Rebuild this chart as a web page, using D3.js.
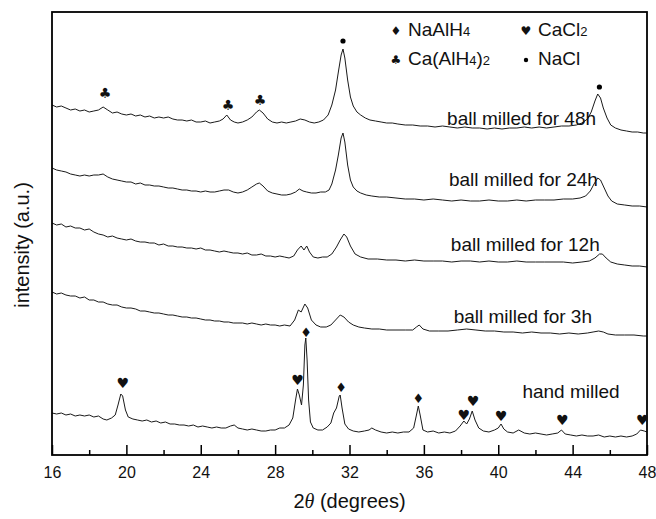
<!DOCTYPE html>
<html>
<head>
<meta charset="utf-8">
<script src="https://cdn.jsdelivr.net/npm/d3@7"></script>
<style>
  body { margin: 0; background: #fff; }
  text { font-family: Arial, "Liberation Sans", sans-serif; fill: #111; }
  .glyph { font-family: "DejaVu Sans", sans-serif; }
</style>
</head>
<body>
<div id="chart"></div>
<script>
// 2theta (deg), intensity (a.u.)
var handMilled = [[16,42],[16.25,41],[16.5,42],[16.75,40],[17,41],[17.25,39],[17.5,40],[17.75,39],[18,40],[18.25,38],[18.5,39],[18.75,36],[18.95,35],[19.2,37],[19.4,40],[19.55,50],[19.7,61],[19.8,59],[19.95,45],[20.1,38],[20.35,36],[20.6,35],[20.85,34],[21.1,35],[21.35,33],[21.6,34],[21.85,32],[22.1,33],[22.35,31],[22.6,31],[22.85,30],[23.1,30],[23.35,29],[23.6,30],[23.85,28],[24.1,29],[24.35,28],[24.6,27],[24.85,28],[25.1,27],[25.35,27],[25.6,29],[25.8,30],[26,27],[26.25,26],[26.5,25],[26.75,26],[27,25],[27.25,24],[27.5,24],[27.75,25],[28,25],[28.25,27],[28.5,27],[28.75,30],[28.95,37],[29.1,55],[29.2,66],[29.3,60],[29.42,50],[29.52,70],[29.6,110],[29.65,117],[29.72,95],[29.8,55],[29.9,33],[30.05,27],[30.3,25],[30.55,25],[30.8,28],[31,32],[31.15,42],[31.3,47],[31.45,59],[31.5,60],[31.6,47],[31.75,31],[31.95,26],[32.2,24],[32.5,23],[32.8,24],[33.05,25],[33.2,27],[33.4,25],[33.7,23],[34,22],[34.3,23],[34.6,22],[34.9,23],[35.2,23],[35.45,27],[35.6,40],[35.7,49],[35.8,40],[35.95,25],[36.2,23],[36.5,24],[36.8,22],[37.1,23],[37.4,22],[37.7,24],[37.95,29],[38.15,34],[38.3,31],[38.45,36],[38.6,44],[38.75,35],[38.95,27],[39.2,24],[39.5,23],[39.8,25],[40,27],[40.15,31],[40.3,26],[40.5,23],[40.8,22],[41.1,25],[41.4,22],[41.7,21],[42,22],[42.3,21],[42.6,20],[42.9,21],[43.2,22],[43.4,25],[43.6,21],[43.9,20],[44.2,19],[44.5,20],[44.8,19],[45.1,19],[45.4,20],[45.7,18],[46,19],[46.3,18],[46.6,19],[46.9,18],[47.2,19],[47.45,21],[47.65,25],[47.85,24],[48,23]];

var milled3h = [[16,163],[16.25,161],[16.5,162],[16.75,160],[17,159],[17.25,159],[17.5,157],[17.75,158],[18,155],[18.25,155],[18.5,153],[18.75,153],[19,151],[19.25,150],[19.5,150],[19.75,148],[20,147],[20.25,147],[20.5,146],[20.75,144],[21,144],[21.25,143],[21.5,142],[21.75,142],[22,141],[22.25,140],[22.5,140],[22.75,139],[23,138],[23.25,138],[23.5,137],[23.75,137],[24,136],[24.25,135],[24.5,135],[24.75,134],[25,134],[25.25,133],[25.5,133],[25.75,132],[26,132],[26.25,132],[26.5,131],[26.75,132],[27,131],[27.25,130],[27.5,131],[27.75,130],[28,130],[28.25,129],[28.5,130],[28.8,129],[29.05,135],[29.25,145],[29.4,143],[29.6,151],[29.75,147],[29.95,135],[30.2,130],[30.45,128],[30.75,128],[31,130],[31.25,135],[31.5,140],[31.7,138],[31.95,133],[32.2,130],[32.5,128],[32.8,127],[33.2,126],[33.6,126],[34,125],[34.5,125],[35,125],[35.4,125],[35.6,128],[35.75,130],[35.95,126],[36.3,124],[36.8,124],[37.3,124],[37.8,125],[38.3,126],[38.8,125],[39.3,124],[39.8,124],[40.3,123],[40.8,123],[41.3,122],[41.8,123],[42.3,122],[42.8,122],[43.3,121],[43.8,122],[44.3,121],[44.8,122],[45.1,123],[45.4,124],[45.65,123],[45.9,121],[46.3,120],[46.8,120],[47.3,120],[47.8,119],[48,119]];

var milled12h = [[16,232],[16.25,230],[16.5,231],[16.75,228],[17,229],[17.25,227],[17.5,227],[17.75,225],[18,226],[18.25,223],[18.5,221],[18.75,220],[19,218],[19.25,219],[19.5,217],[19.75,216],[20,215],[20.25,216],[20.5,214],[20.75,213],[21,213],[21.25,212],[21.5,212],[21.75,210],[22,211],[22.25,209],[22.5,209],[22.75,208],[23,208],[23.25,207],[23.5,207],[23.75,206],[24,207],[24.25,205],[24.5,205],[24.75,204],[25,203],[25.25,204],[25.5,203],[25.75,202],[26,202],[26.25,201],[26.5,202],[26.75,200],[27,200],[27.25,201],[27.5,199],[27.75,199],[28,198],[28.25,199],[28.5,198],[28.75,197],[29,199],[29.2,205],[29.4,209],[29.55,205],[29.7,209],[29.85,203],[30.05,198],[30.3,197],[30.55,198],[30.8,198],[31.05,201],[31.3,208],[31.5,215],[31.7,221],[31.85,218],[32.05,209],[32.3,201],[32.6,198],[33,196],[33.5,196],[34,195],[34.5,195],[35,194],[35.5,195],[36,194],[36.5,194],[37,194],[37.5,193],[38,194],[38.5,194],[39,193],[39.5,194],[40,193],[40.5,193],[41,194],[41.5,193],[42,193],[42.5,193],[43,193],[43.5,193],[44,192],[44.5,193],[44.9,194],[45.2,197],[45.45,201],[45.6,201],[45.8,197],[46.05,193],[46.4,191],[46.8,190],[47.2,189],[47.6,189],[48,188]];

var milled24h = [[16,287],[16.25,285],[16.5,284],[16.75,283],[17,281],[17.25,280],[17.5,279],[17.75,280],[18,279],[18.25,280],[18.5,280],[18.75,281],[19,278],[19.25,276],[19.5,275],[19.75,274],[20,273],[20.25,273],[20.5,271],[20.75,272],[21,270],[21.25,270],[21.5,269],[21.75,269],[22,268],[22.25,267],[22.5,267],[22.75,266],[23,265],[23.25,265],[23.5,264],[23.75,264],[24,263],[24.25,264],[24.5,263],[24.75,263],[25,264],[25.25,265],[25.5,265],[25.75,263],[26,262],[26.25,263],[26.5,265],[26.75,268],[27,271],[27.15,272],[27.35,269],[27.6,264],[27.85,262],[28.1,261],[28.35,260],[28.6,260],[28.85,261],[29.1,263],[29.3,266],[29.5,264],[29.7,263],[29.95,262],[30.2,262],[30.45,263],[30.7,263],[30.9,265],[31.05,271],[31.25,285],[31.4,300],[31.55,317],[31.65,322],[31.75,313],[31.9,290],[32.05,275],[32.2,268],[32.4,264],[32.6,262],[32.9,260],[33.2,259],[33.6,258],[34,258],[34.5,257],[35,256],[35.5,256],[36,255],[36.5,256],[37,255],[37.5,254],[38,255],[38.5,254],[39,254],[39.5,255],[40,254],[40.5,254],[41,255],[41.5,254],[42,255],[42.5,255],[43,255],[43.5,256],[44,256],[44.4,257],[44.7,259],[44.95,264],[45.15,271],[45.35,277],[45.5,275],[45.7,267],[45.9,259],[46.1,254],[46.4,251],[46.8,250],[47.2,249],[47.6,249],[48,248]];

var milled48h = [[16,350],[16.25,348],[16.5,349],[16.75,347],[17,345],[17.25,346],[17.5,344],[17.75,345],[18,343],[18.25,344],[18.5,345],[18.75,348],[19,345],[19.25,342],[19.5,343],[19.75,341],[20,340],[20.25,341],[20.5,339],[20.75,340],[21,338],[21.25,339],[21.5,337],[21.75,338],[22,337],[22.25,338],[22.5,336],[22.75,335],[23,335],[23.25,334],[23.5,335],[23.75,333],[24,333],[24.25,334],[24.5,332],[24.75,333],[25,334],[25.2,336],[25.4,340],[25.6,335],[25.8,333],[26,332],[26.25,333],[26.5,335],[26.75,338],[27,343],[27.15,345],[27.35,342],[27.6,336],[27.85,333],[28.1,332],[28.35,333],[28.6,332],[28.85,333],[29.1,334],[29.35,336],[29.6,335],[29.85,333],[30.1,332],[30.35,333],[30.6,335],[30.85,340],[31.05,350],[31.25,365],[31.4,383],[31.55,400],[31.65,406],[31.75,397],[31.9,375],[32.05,358],[32.2,349],[32.4,343],[32.6,340],[32.85,337],[33.1,335],[33.4,334],[33.7,333],[34,332],[34.3,332],[34.6,331],[35,330],[35.4,330],[35.8,329],[36.2,329],[36.6,328],[37,329],[37.4,328],[37.8,327],[38.2,328],[38.6,327],[39,327],[39.4,326],[39.8,327],[40.2,326],[40.6,327],[41,327],[41.4,328],[41.8,327],[42.2,328],[42.6,327],[43,328],[43.4,329],[43.8,329],[44.2,330],[44.5,332],[44.8,336],[45,343],[45.2,354],[45.35,361],[45.5,357],[45.65,347],[45.85,337],[46.05,330],[46.3,327],[46.6,325],[46.9,324],[47.2,323],[47.5,323],[47.8,322],[48,322]];

var traces = [handMilled, milled3h, milled12h, milled24h, milled48h];
var traceNames = ["hand milled", "ball milled for 3h", "ball milled for 12h", "ball milled for 24h", "ball milled for 48h"];
// label anchor: [2theta, intensity]
var traceLabelPos = [[41.3, 57], [37.6, 132], [37.45, 204], [37.35, 269], [37.25, 330]];

// peak markers: [phase, 2theta, intensity]
var peakMarks = [
  ["club", 18.85, 362], ["club", 25.47, 350], ["club", 27.19, 355],
  ["dot", 31.65, 414], ["dot", 45.44, 368],
  ["heart", 19.8, 72], ["heart", 29.2, 75], ["diamond", 29.66, 123],
  ["diamond", 31.55, 68], ["diamond", 35.7, 57],
  ["heart", 38.15, 40], ["heart", 38.65, 54], ["heart", 40.15, 39],
  ["heart", 43.45, 35], ["heart", 47.75, 35]
];

var legendPhases = ["diamond", "heart", "club", "dot"];
var legendMain = ["NaAlH", "CaCl", "Ca(AlH", "NaCl"];
var legendSubs = [["4", ""], ["2", ""], ["4", ")2"], ["", ""]];

var majorTicks = [16, 20, 24, 28, 32, 36, 40, 44, 48];
var minorTicks = [18, 22, 26, 30, 34, 38, 42, 46];

var glyphs = { diamond: "\u2666", heart: "\u2665", club: "\u2663" };

var margin = {top: 12, right: 9, bottom: 64, left: 52},
  width = 656 - margin.left - margin.right,
  height = 519 - margin.top - margin.bottom;

var svg = d3.select("#chart").append("svg")
    .attr("width", 656)
    .attr("height", 519),
  g = svg.append("g")
    .attr("transform", "translate(" + margin.left + "," + margin.top + ")");

var x = d3.scaleLinear().domain([16, 48]).range([0, width]);
var y = d3.scaleLinear().domain([0, 443]).range([height, 0]);

var line = d3.line()
  .x(function(d) { return x(d[0]); })
  .y(function(d) { return y(d[1]); });

g.selectAll(".trace")
  .data(traces)
  .enter().append("path")
  .attr("class", "trace")
  .attr("fill", "none")
  .attr("stroke", "#1a1a1a")
  .attr("stroke-width", 1)
  .attr("stroke-linejoin", "round")
  .attr("d", line);

// bottom axis, ticks pointing inward
var xAxis = g.append("g")
  .attr("transform", "translate(0," + height + ")")
  .call(d3.axisBottom(x).tickValues(majorTicks).tickSizeInner(-10).tickSizeOuter(0).tickPadding(12));
xAxis.select(".domain").remove();
xAxis.selectAll("line").attr("stroke", "#000").attr("stroke-width", 1.5);
xAxis.selectAll("text").attr("font-size", "16px").attr("font-family", "Arial, 'Liberation Sans', sans-serif").attr("fill", "#111");

var xMinor = g.append("g")
  .attr("transform", "translate(0," + height + ")")
  .call(d3.axisBottom(x).tickValues(minorTicks).tickSizeInner(-5).tickSizeOuter(0).tickFormat(""));
xMinor.select(".domain").remove();
xMinor.selectAll("line").attr("stroke", "#000").attr("stroke-width", 1.5);

g.append("rect")
  .attr("width", width).attr("height", height)
  .attr("fill", "none").attr("stroke", "#000").attr("stroke-width", 1.8);

// labels on traces
g.selectAll(".tlabel")
  .data(traceNames)
  .enter().append("text")
  .attr("class", "tlabel")
  .attr("x", function(d, i) { return x(traceLabelPos[i][0]); })
  .attr("y", function(d, i) { return y(traceLabelPos[i][1]); })
  .attr("font-size", "19px")
  .text(function(d) { return d; });

// peak markers
g.selectAll(".mark")
  .data(peakMarks.filter(function(d) { return d[0] != "dot"; }))
  .enter().append("text")
  .attr("class", "glyph")
  .attr("x", function(d) { return x(d[1]); })
  .attr("y", function(d) { return y(d[2]); })
  .attr("text-anchor", "middle")
  .attr("dominant-baseline", "central")
  .attr("font-size", function(d) { return d[0] == "diamond" ? "13px" : "14px"; })
  .attr("fill", "#000")
  .text(function(d) { return glyphs[d[0]]; });

g.selectAll(".dotmark")
  .data(peakMarks.filter(function(d) { return d[0] == "dot"; }))
  .enter().append("circle")
  .attr("cx", function(d) { return x(d[1]); })
  .attr("cy", function(d) { return y(d[2]); })
  .attr("r", 2.6)
  .attr("fill", "#000");

// legend
var legend = svg.append("g");
legendPhases.forEach(function(p, i) {
  var lx = i % 2 == 0 ? 396 : 526;
  var ly = i < 2 ? 31 : 60;
  if (p == "dot") {
    legend.append("circle").attr("cx", lx).attr("cy", ly).attr("r", 2.2).attr("fill", "#000");
  } else {
    legend.append("text").attr("class", "glyph")
      .attr("x", lx).attr("y", ly)
      .attr("text-anchor", "middle").attr("dominant-baseline", "central")
      .attr("font-size", "12px").attr("fill", "#000")
      .text(glyphs[p]);
  }
  var t = legend.append("text")
    .attr("x", lx + 12).attr("y", i < 2 ? 36 : 65)
    .attr("font-size", "19px");
  t.append("tspan").text(legendMain[i]);
  if (legendSubs[i][0]) t.append("tspan").attr("font-size", "13px").text(legendSubs[i][0]);
  if (legendSubs[i][1]) {
    t.append("tspan").text(legendSubs[i][1].charAt(0));
    t.append("tspan").attr("font-size", "13px").text(legendSubs[i][1].slice(1));
  }
});

// axis titles
var xt = svg.append("text")
  .attr("x", margin.left + width / 2)
  .attr("y", 508)
  .attr("text-anchor", "middle")
  .attr("font-size", "20px");
xt.append("tspan").text("2");
xt.append("tspan").attr("font-style", "italic").attr("font-family", "'Times New Roman', 'Liberation Serif', serif").text("\u03b8");
xt.append("tspan").text(" (degrees)");

svg.append("text")
  .attr("transform", "translate(29,245) rotate(-90)")
  .attr("text-anchor", "middle")
  .attr("font-size", "20px")
  .text("intensity (a.u.)");
</script>
</body>
</html>
